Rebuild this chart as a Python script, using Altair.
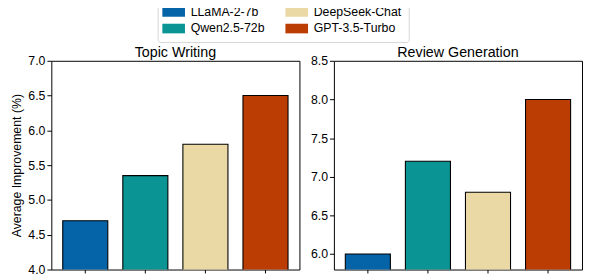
import altair as alt
import pandas as pd

models = ["LLaMA-2-7b", "Qwen2.5-72b", "DeepSeek-Chat", "GPT-3.5-Turbo"]
colors = ["#0563a8", "#0a9494", "#ead8a5", "#bb3d03"]
topic_values = [4.7, 5.35, 5.8, 6.5]
review_values = [6.0, 7.2, 6.8, 8.0]

df_topic = pd.DataFrame({"model": models, "value": topic_values})
df_review = pd.DataFrame({"model": models, "value": review_values})

FONT = "Liberation Sans"

def panel(df, title, domain, ticks, ytitle, show_legend):
    color_enc = alt.Color(
        "model:N",
        scale=alt.Scale(domain=models, range=colors),
        legend=alt.Legend(
            orient="none", legendX=108, legendY=-63, columns=2, title=None,
            symbolType="M-2,-0.85H2V0.85H-2Z", symbolSize=132,
            symbolStrokeWidth=0, labelFontSize=12.5, labelFont=FONT,
            labelColor="black", rowPadding=4, columnPadding=20,
            symbolOffset=3, labelOffset=11, padding=7,
            strokeColor="#d6d6d6", cornerRadius=3, fillColor="white",
        ) if show_legend else None,
    )
    return alt.Chart(df, title=alt.Title(title, fontSize=14.5, font=FONT, fontWeight="normal",
                                         color="black", offset=-6, frame="group")).mark_bar(
        clip=True, stroke="black", strokeWidth=1.1
    ).encode(
        x=alt.X("model:N", sort=models,
                scale=alt.Scale(paddingInner=0.25, paddingOuter=0.19),
                axis=alt.Axis(labels=False, title=None, domain=False, ticks=True,
                              tickColor="black", tickSize=3.5, grid=False)),
        y=alt.Y("value:Q", scale=alt.Scale(domain=domain, nice=False, zero=False),
                axis=alt.Axis(values=ticks, format=".1f", title=ytitle, domain=False,
                              tickColor="black", tickSize=4.5, labelPadding=2,
                              labelFontSize=12.5, labelFont=FONT, labelColor="black",
                              titleFont=FONT, titleFontSize=12.5, titleFontWeight="normal",
                              titleColor="black", titlePadding=4, grid=False)),
        color=color_enc,
    ).properties(width=252, height=212)

left = panel(df_topic, "Topic Writing", [4.0, 7.0], [4.0, 4.5, 5.0, 5.5, 6.0, 6.5, 7.0],
             "Average Improvement (%)", True)
right = panel(df_review, "Review Generation", [5.8, 8.5], [6.0, 6.5, 7.0, 7.5, 8.0, 8.5],
              None, False)

chart = alt.hconcat(left, right, spacing=9).properties(
    padding={"top": -12.5, "left": 2, "right": 0, "bottom": 0}
).configure_view(stroke="black", strokeWidth=1)

chart.save("out.html", embed_options={"renderer": "svg", "actions": False})
